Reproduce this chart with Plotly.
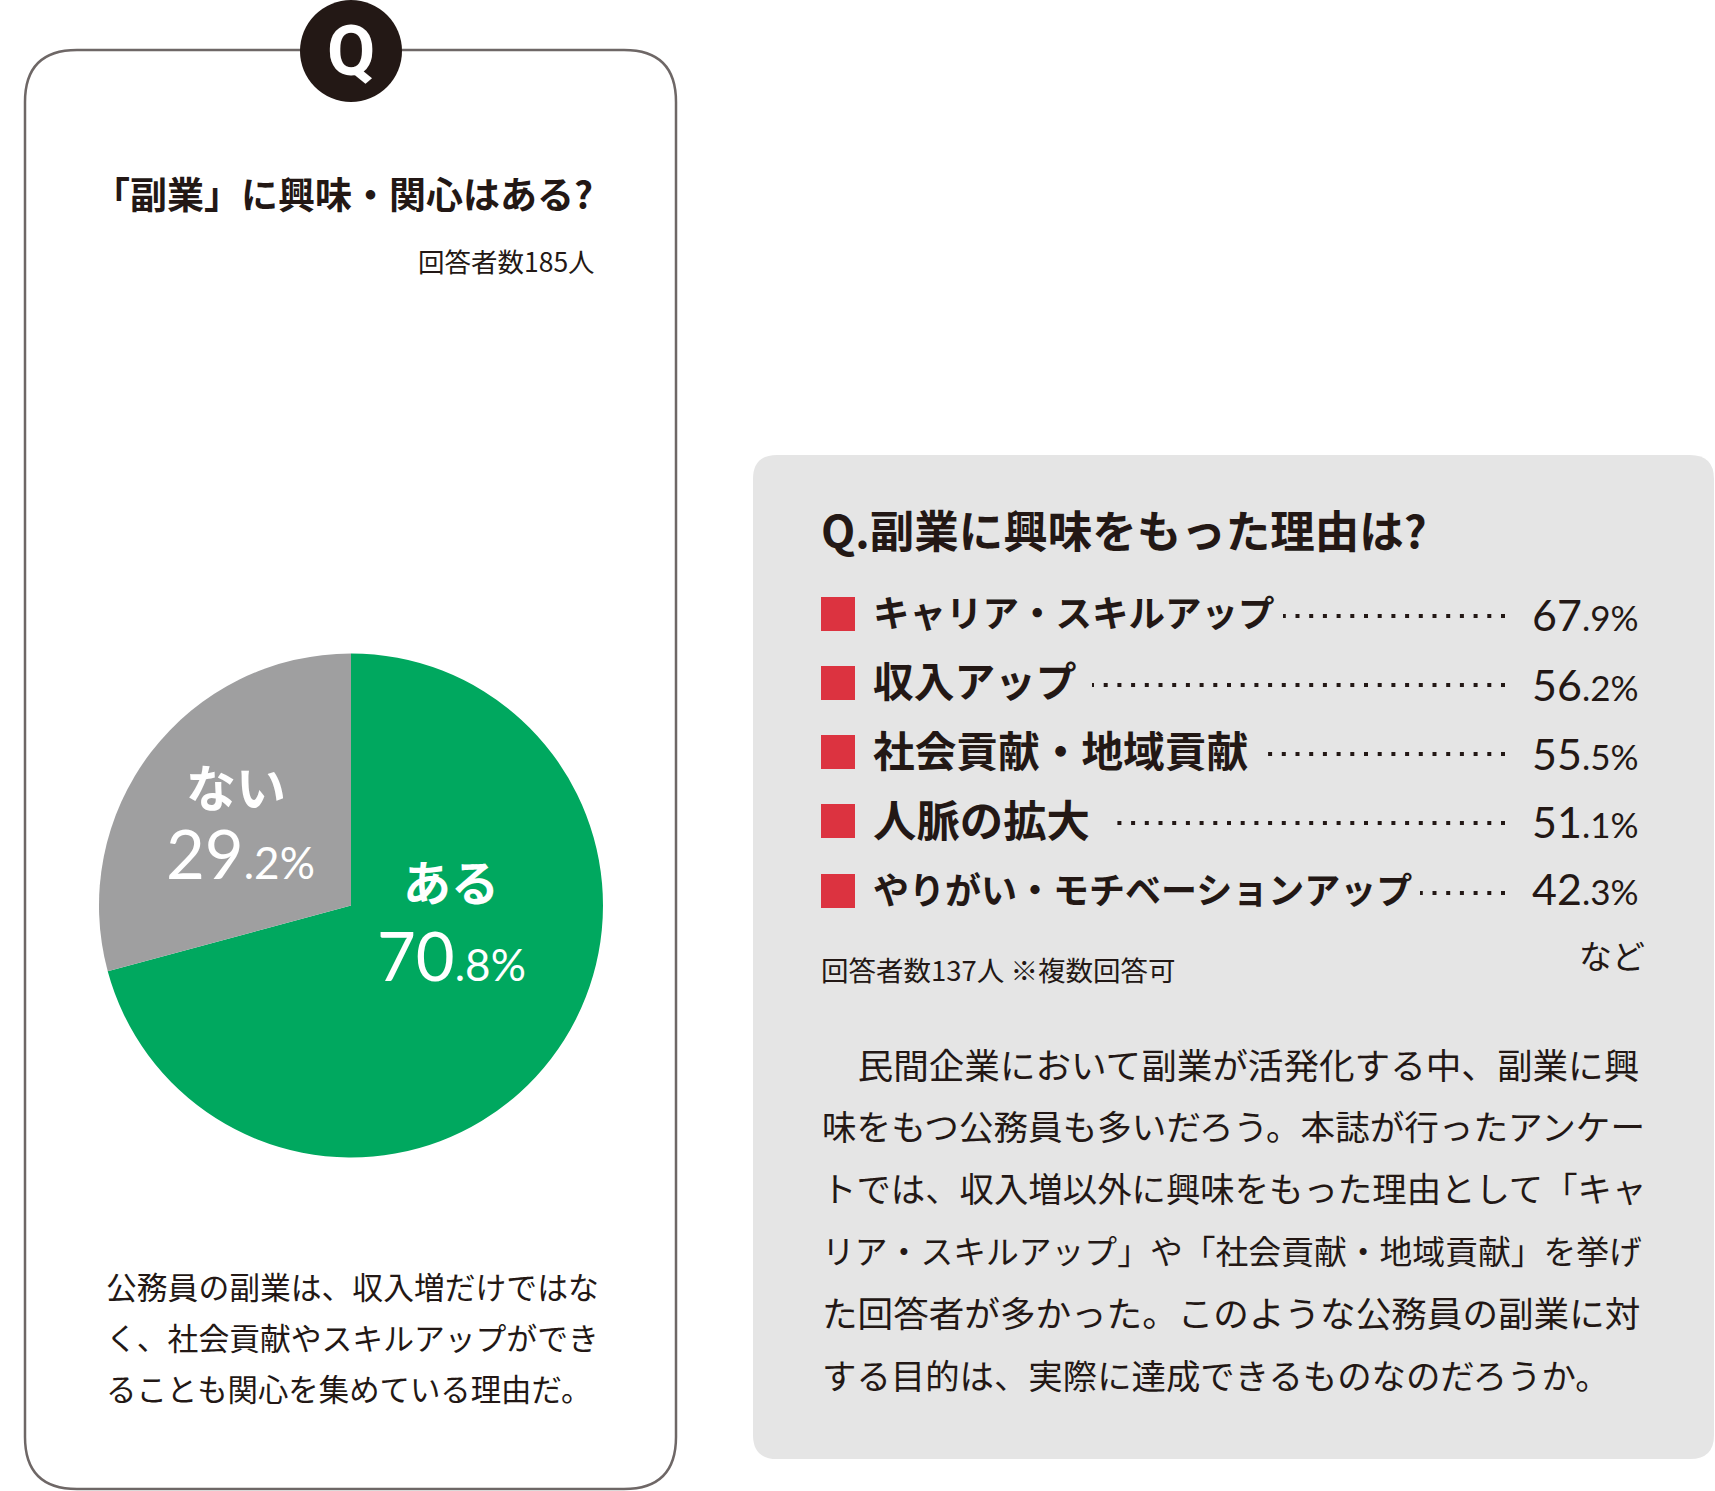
import plotly.graph_objects as go

W, H = 1715, 1491
INK = "#231815"
CJK = "Noto Sans CJK JP"
NUM = "Lato"

# ---- data ----
pie_labels = ["ある", "ない"]
pie_values = [70.8, 29.2]
pie_colors = ["#00A85F", "#9F9FA0"]

reasons = ["キャリア・スキルアップ", "収入アップ", "社会貢献・地域貢献", "人脈の拡大", "やりがい・モチベーションアップ"]
reason_values = [67.9, 56.2, 55.5, 51.1, 42.3]

left_title = "「副業」に興味・関心はある?"
left_count = "回答者数185人"
left_body = ["公務員の副業は、収入増だけではな", "く、社会貢献やスキルアップができ", "ることも関心を集めている理由だ。"]
right_title = "Q.副業に興味をもった理由は?"
right_note = "回答者数137人 ※複数回答可"
right_etc = "など"
right_body = [
    "　民間企業において副業が活発化する中、副業に興",
    "味をもつ公務員も多いだろう。本誌が行ったアンケー",
    "トでは、収入増以外に興味をもった理由として「キャ",
    "リア・スキルアップ」や「社会貢献・地域貢献」を挙げ",
    "た回答者が多かった。このような公務員の副業に対",
    "する目的は、実際に達成できるものなのだろうか。",
]

# ---- layout helpers (pixels from the top-left corner) ----
px = lambda x: x / W
py = lambda y: 1 - y / H


def rounded(x0, y0, x1, y1, r):
    p = [
        f"M {px(x0 + r)} {py(y0)}", f"L {px(x1 - r)} {py(y0)}", f"Q {px(x1)} {py(y0)} {px(x1)} {py(y0 + r)}",
        f"L {px(x1)} {py(y1 - r)}", f"Q {px(x1)} {py(y1)} {px(x1 - r)} {py(y1)}",
        f"L {px(x0 + r)} {py(y1)}", f"Q {px(x0)} {py(y1)} {px(x0)} {py(y1 - r)}",
        f"L {px(x0)} {py(y0 + r)}", f"Q {px(x0)} {py(y0)} {px(x0 + r)} {py(y0)}", "Z",
    ]
    return " ".join(p)


def mixed(value, small):
    whole, frac = f"{value:.1f}".split(".")
    return f'{whole}<span style="font-size:{small}px">.{frac}%</span>'


shapes = []
annotations = []


def text(x, y, s, size, anchor="left", color=INK, family=CJK, bold=False):
    annotations.append(dict(
        x=px(x), y=py(y), xref="paper", yref="paper", text=f"<b>{s}</b>" if bold else s,
        showarrow=False, xanchor=anchor, yanchor="middle", align=anchor,
        font=dict(size=size, color=color, family=family), borderpad=0, borderwidth=0,
    ))


common = dict(xref="paper", yref="paper", layer="below")
shapes.append(dict(type="path", path=rounded(25, 50, 676, 1489, 52), fillcolor="white",
                   line=dict(color="#6E6766", width=2.5), **common))
shapes.append(dict(type="circle", x0=px(300), x1=px(402), y0=py(0), y1=py(102), fillcolor=INK,
                   line=dict(width=0), **common))
shapes.append(dict(type="path", path=rounded(753, 455, 1714, 1459, 24), fillcolor="#E5E5E5",
                   line=dict(width=0), **common))

text(351, 51, "Q", 70, "center", "white", "Roboto", True)
text(343, 193, left_title, 37, "center", bold=True)
text(595, 260, left_count, 26.5, "right")

for y, line, s in zip([1285, 1336, 1388], left_body, [30.8, 30.8, 30.4]):
    text(106, y, line, s)

# pie labels
text(451, 880, pie_labels[0], 48, "center", "white", CJK, True)
text(451, 955, mixed(pie_values[0], 44), 67, "center", "white", NUM)
text(236, 785, pie_labels[1], 50, "center", "white", CJK, True)
text(240, 853, mixed(pie_values[1], 44), 67, "center", "white", NUM)

# right panel
text(821, 528, right_title, 44.5, bold=True)
row_y = [614, 683, 752, 821, 891]
value_y = [615, 684, 753, 822, 889]
dot_start = [1283, 1092, 1266, 1114, 1420]
label_size = [36.5, 40.7, 41.7, 43.4, 36]
for y, vy, name, val, ds, ls in zip(row_y, value_y, reasons, reason_values, dot_start, label_size):
    shapes.append(dict(type="rect", x0=px(821), x1=px(855), y0=py(y - 17), y1=py(y + 17),
                       fillcolor="#DC3340", line=dict(width=0), **common))
    text(873, y - 3, name, ls, bold=True)
    shapes.append(dict(type="line", x0=px(1505), x1=px(ds), y0=py(y + 2), y1=py(y + 2),
                       line=dict(color=INK, width=4, dash="4px,9.7px"), **common))
    text(1532, vy, mixed(val, 35), 43, family=NUM)

text(821, 969, right_note, 27.5)
text(1645, 955, right_etc, 33, "right")

body_y = [1063, 1125, 1187, 1249, 1311, 1374]
body_size = [35.6, 34.6, 34.4, 32.8, 35.6, 34.4]
for y, line, s in zip(body_y, right_body, body_size):
    text(822, y, line, s)

fig = go.Figure(go.Pie(
    labels=pie_labels, values=pie_values, sort=False, direction="clockwise", rotation=0,
    marker=dict(colors=pie_colors, line=dict(width=0)), textinfo="none", hoverinfo="label+percent",
    showlegend=False, domain=dict(x=[px(99), px(603)], y=[py(1157.5), py(653.5)]),
))
fig.update_layout(
    width=W, height=H, margin=dict(l=0, r=0, t=0, b=0, pad=0), autosize=False,
    paper_bgcolor="white", plot_bgcolor="white", shapes=shapes, annotations=annotations,
    showlegend=False,
)
fig.write_html("out.html", post_script="document.body.style.margin='0';document.documentElement.style.overflow='hidden';",
               config={"displayModeBar": False})
